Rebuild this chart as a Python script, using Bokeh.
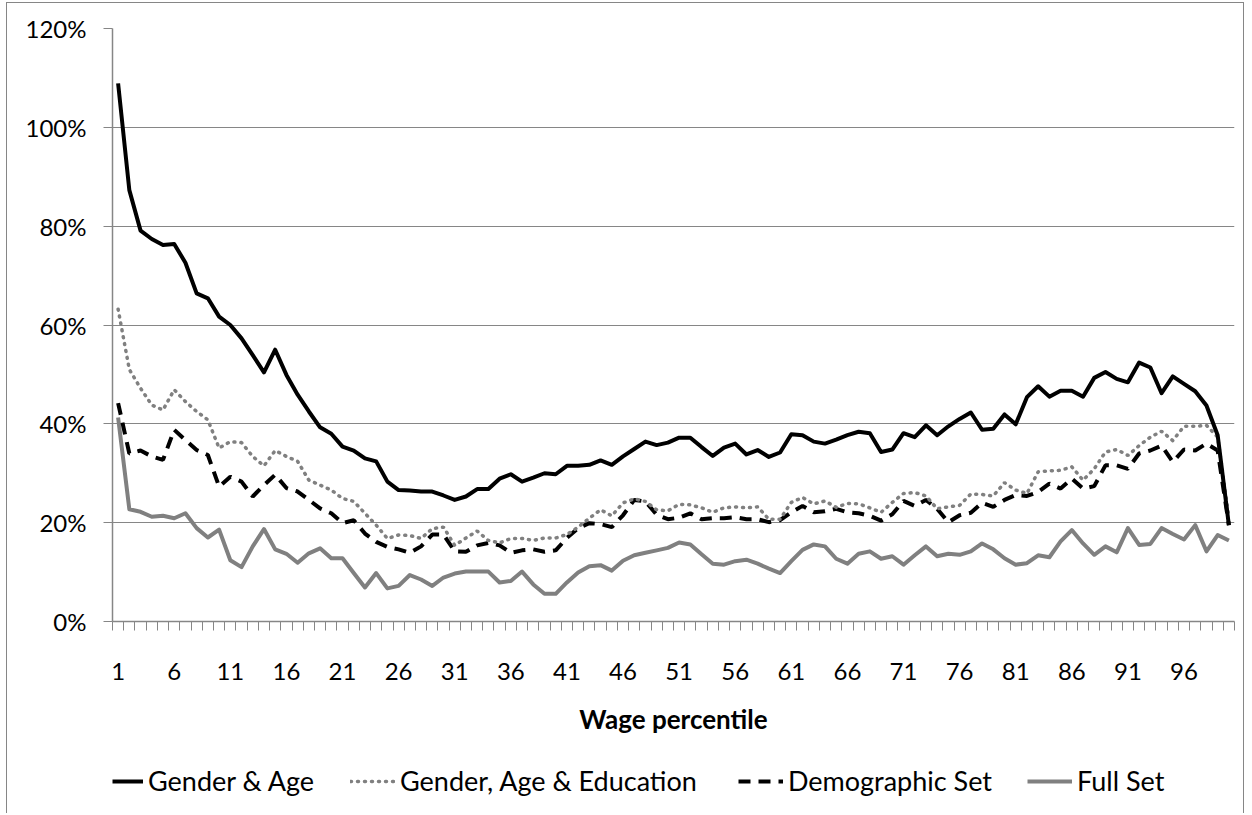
from bokeh.plotting import figure
from bokeh.models import (Range1d, FixedTicker, PrintfTickFormatter, Legend, LegendItem,
                          ColumnDataSource)
from bokeh.layouts import column
from bokeh.embed import file_html
from bokeh.resources import INLINE

# ---------------- data ----------------
percentiles = list(range(1, 101))
tick_labels_at = [1, 6, 11, 16, 21, 26, 31, 36, 41, 46, 51, 56, 61, 66, 71, 76, 81, 86, 91, 96]
y_ticks = [0, 20, 40, 60, 80, 100, 120]

series_names = ["Gender & Age", "Gender, Age & Education", "Demographic Set", "Full Set"]

gender_age = [
    108.9, 87.3, 79.1, 77.4, 76.2, 76.4, 72.6, 66.4, 65.4, 61.7,
    60.0, 57.3, 53.9, 50.4, 55.0, 49.9, 45.9, 42.5, 39.3, 38.0,
    35.4, 34.6, 33.0, 32.4, 28.3, 26.6, 26.5, 26.3, 26.3, 25.5,
    24.6, 25.3, 26.8, 26.8, 28.9, 29.8, 28.3, 29.1, 30.0, 29.8,
    31.5, 31.5, 31.7, 32.6, 31.7, 33.4, 34.9, 36.4, 35.7, 36.2,
    37.2, 37.2, 35.3, 33.5, 35.2, 36.0, 33.8, 34.7, 33.3, 34.2,
    37.9, 37.7, 36.4, 36.0, 36.8, 37.7, 38.4, 38.1, 34.3, 34.8,
    38.1, 37.3, 39.7, 37.7, 39.5, 41.0, 42.3, 38.8, 39.0, 41.9,
    39.9, 45.4, 47.6, 45.5, 46.7, 46.7, 45.5, 49.3, 50.5, 49.1,
    48.4, 52.4, 51.4, 46.2, 49.6, 48.1, 46.6, 43.7, 37.7, 19.5,
]

gender_age_edu = [
    63.2, 51.0, 47.2, 43.8, 42.8, 46.9, 44.5, 42.5, 40.8, 35.1,
    36.4, 36.2, 33.4, 31.5, 34.6, 33.4, 32.4, 28.6, 27.6, 26.6,
    24.9, 24.3, 21.9, 19.5, 16.8, 17.5, 17.4, 16.8, 18.8, 19.1,
    15.4, 16.9, 18.3, 16.4, 15.9, 16.8, 16.8, 16.4, 16.9, 16.9,
    17.6, 19.1, 20.9, 22.6, 21.4, 24.0, 24.8, 24.3, 22.6, 22.4,
    23.7, 23.6, 23.0, 22.1, 23.0, 23.2, 23.0, 23.2, 20.7, 20.7,
    24.1, 25.1, 23.8, 24.4, 23.1, 23.9, 23.8, 23.0, 22.1, 24.1,
    25.9, 26.1, 25.4, 22.8, 23.2, 23.5, 25.8, 25.7, 25.4, 28.1,
    26.6, 25.9, 30.3, 30.5, 30.6, 31.3, 28.6, 30.9, 34.3, 34.8,
    33.6, 35.6, 37.3, 38.5, 36.6, 39.5, 39.5, 39.7, 37.3, 21.0,
]

demographic_set = [
    44.2, 34.0, 34.6, 33.4, 32.7, 38.8, 36.7, 34.7, 33.7, 27.3,
    29.3, 28.3, 25.3, 27.6, 29.7, 27.0, 26.3, 24.6, 22.9, 21.9,
    19.9, 20.5, 17.8, 16.1, 15.1, 14.6, 13.9, 15.2, 17.6, 17.6,
    14.2, 14.1, 15.4, 15.9, 15.4, 13.9, 14.4, 14.6, 14.1, 14.4,
    16.9, 18.9, 19.9, 19.7, 19.1, 21.5, 24.6, 24.3, 21.6, 20.7,
    21.0, 21.9, 20.7, 20.9, 20.9, 21.1, 20.7, 20.7, 20.1, 20.5,
    22.1, 23.4, 22.1, 22.3, 22.8, 22.1, 21.9, 21.4, 20.4, 21.7,
    24.4, 23.4, 24.6, 22.8, 20.1, 21.5, 22.0, 24.0, 23.2, 24.6,
    25.6, 25.4, 26.2, 27.9, 26.9, 28.9, 26.9, 27.4, 31.6, 31.6,
    30.9, 34.0, 34.6, 35.6, 32.3, 34.8, 34.6, 36.0, 34.6, 19.5,
]

full_set = [
    41.3, 22.7, 22.2, 21.2, 21.4, 20.9, 21.9, 18.9, 17.0, 18.6,
    12.4, 11.0, 15.2, 18.7, 14.6, 13.7, 11.9, 13.8, 14.8, 12.8,
    12.8, 9.8, 6.9, 9.8, 6.7, 7.2, 9.4, 8.5, 7.2, 8.9,
    9.7, 10.1, 10.1, 10.1, 7.9, 8.2, 10.1, 7.5, 5.6, 5.6,
    7.9, 9.9, 11.2, 11.4, 10.3, 12.3, 13.4, 13.9, 14.4, 14.9,
    16.0, 15.6, 13.6, 11.7, 11.5, 12.2, 12.5, 11.7, 10.7, 9.8,
    12.2, 14.5, 15.6, 15.2, 12.7, 11.7, 13.7, 14.2, 12.7, 13.2,
    11.5, 13.4, 15.2, 13.2, 13.7, 13.5, 14.2, 15.8, 14.6, 12.8,
    11.5, 11.8, 13.4, 13.0, 16.2, 18.5, 15.8, 13.5, 15.2, 14.0,
    18.9, 15.5, 15.7, 18.9, 17.7, 16.6, 19.5, 14.2, 17.5, 16.4,
]

# ---------------- styling ----------------
FONT = "Lato"
AXIS_GREY = "#868686"
SERIES_GREY = "#808080"
STYLES = [
    dict(line_color="black", line_width=4, line_join="round"),
    dict(line_color=SERIES_GREY, line_width=3.5, line_dash="1 6", line_cap="round"),
    dict(line_color="black", line_width=4, line_dash="12 8"),
    dict(line_color=SERIES_GREY, line_width=4, line_join="round"),
]

p = figure(width=1236, height=760, output_backend="svg", toolbar_location=None,
           x_range=Range1d(0.5, 100.5), y_range=Range1d(0, 120),
           min_border_left=105, min_border_right=9, min_border_top=25, min_border_bottom=142)
p.outline_line_color = None
p.background_fill_color = "white"
p.border_fill_color = "white"

# y axis
yax = p.yaxis[0]
yax.ticker = FixedTicker(ticks=y_ticks)
yax.formatter = PrintfTickFormatter(format="%d%%")
yax.axis_line_color = AXIS_GREY
yax.axis_line_width = 1.5
yax.major_tick_line_color = AXIS_GREY
yax.major_tick_out = 9
yax.major_tick_in = 0
yax.minor_tick_line_color = None
yax.major_label_text_font = FONT
yax.major_label_text_font_size = "24px"
yax.major_label_text_color = "black"
yax.major_label_standoff = 17

# x axis
xax = p.xaxis[0]
xax.ticker = FixedTicker(ticks=tick_labels_at, minor_ticks=[k + 0.5 for k in range(0, 101)])
xax.axis_line_color = AXIS_GREY
xax.axis_line_width = 1.5
xax.major_tick_line_color = None
xax.major_tick_out = 9
xax.major_tick_in = 0
xax.minor_tick_line_color = AXIS_GREY
xax.minor_tick_out = 9
xax.minor_tick_in = 0
xax.major_label_text_font = FONT
xax.major_label_text_font_size = "24px"
xax.major_label_text_color = "black"
xax.major_label_standoff = 32
xax.axis_label = "Wage percentile"
xax.axis_label_text_font = FONT
xax.axis_label_text_font_size = "26px"
xax.axis_label_text_font_style = "bold"
xax.axis_label_text_color = "black"
xax.axis_label_standoff = 20

p.xgrid.grid_line_color = None
p.ygrid.grid_line_color = AXIS_GREY
p.ygrid.grid_line_width = 1

src = ColumnDataSource(dict(x=percentiles, ga=gender_age, gae=gender_age_edu,
                            dem=demographic_set, full=full_set))

# draw order: Full Set at the back, Gender & Age on top
p.line("x", "full", source=src, **STYLES[3])
p.line("x", "dem", source=src, **STYLES[2])
p.line("x", "gae", source=src, **STYLES[1])
p.line("x", "ga", source=src, **STYLES[0])

# ---------------- legend strip (its frame lines up with the chart's plot area) ----------------
leg = figure(width=1236, height=50, output_backend="svg", toolbar_location=None,
             x_range=Range1d(0, 1122), y_range=Range1d(0, 50),
             x_axis_type=None, y_axis_type=None,
             min_border_left=105, min_border_right=9, min_border_top=0, min_border_bottom=0)
leg.outline_line_color = None
leg.grid.visible = False
leg.border_fill_color = "white"
leg.background_fill_color = "white"

legend_x = [0, 238, 626, 915]
legend_glyph_w = [31, 45, 45, 45]
for name, style, lx, gw in zip(series_names, STYLES, legend_x, legend_glyph_w):
    # legend-key line kept outside the visible ranges; only its key is shown
    r = leg.line(x=[-20, -10], y=[-20, -20], **style)
    lg = Legend(items=[LegendItem(label=name, renderers=[r])], location=(lx, 16),
                orientation="horizontal", glyph_width=gw, glyph_height=20,
                label_standoff=5, padding=0, margin=0, spacing=0,
                border_line_color=None, background_fill_alpha=0,
                label_text_font=FONT, label_text_font_size="27px",
                label_text_color="black")
    leg.add_layout(lg)

layout = column(p, leg, spacing=0)
layout.styles = {"margin-left": "6px", "margin-top": "2px",
                 "border-left": "1px solid #868686", "border-top": "1px solid #868686",
                 "border-right": "1px solid #868686"}

open("out.html", "w").write(file_html(layout, INLINE, "chart"))
